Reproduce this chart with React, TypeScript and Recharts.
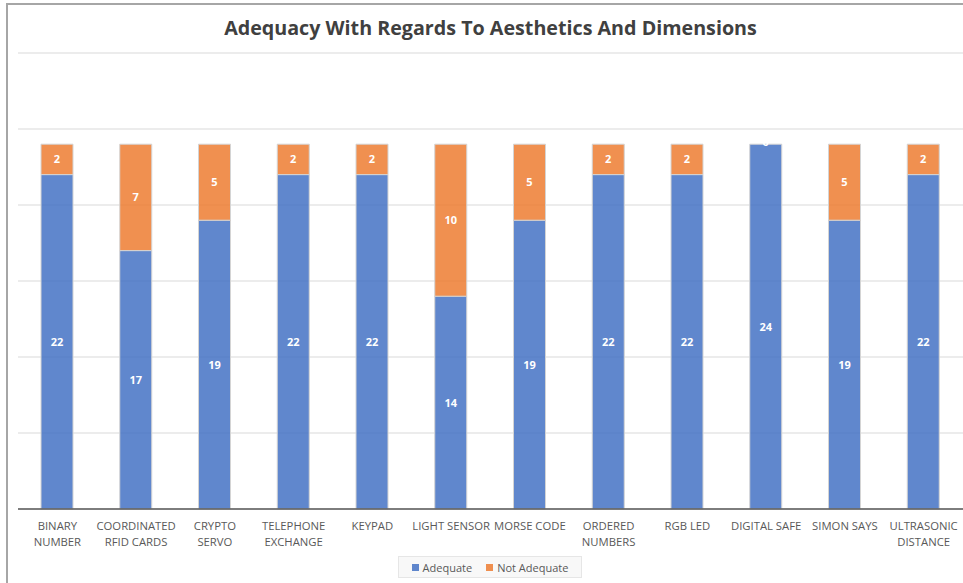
import React from "react";
import { BarChart, Bar, XAxis, YAxis, CartesianGrid, LabelList } from "recharts";

const projects = [
  "BINARY\nNUMBER",
  "COORDINATED\nRFID CARDS",
  "CRYPTO\nSERVO",
  "TELEPHONE\nEXCHANGE",
  "KEYPAD",
  "LIGHT SENSOR",
  "MORSE CODE",
  "ORDERED\nNUMBERS",
  "RGB LED",
  "DIGITAL SAFE",
  "SIMON SAYS",
  "ULTRASONIC\nDISTANCE",
];
const adequate = [22, 17, 19, 22, 22, 14, 19, 22, 22, 24, 19, 22];
const notAdequate = [2, 7, 5, 2, 2, 10, 5, 2, 2, 0, 5, 2];
const gridTicks = [0, 5, 10, 15, 20, 25, 30];

const BLUE = "#4472c4";
const ORANGE = "#ed7d31";
const FONT = "'Open Sans', sans-serif";

const rows = projects.map((name, i) => ({
  name,
  adequate: adequate[i],
  notAdequate: notAdequate[i],
}));

function ProjectTick({ x, y, payload }: any) {
  const lines = String(payload.value).split("\n");
  return (
    <text x={x} y={y + 13} textAnchor="middle" fill="#595959" fontSize={11.3} fontFamily={FONT}>
      {lines.map((line, i) => (
        <tspan key={i} x={x} dy={i === 0 ? 0 : 16}>
          {line}
        </tspan>
      ))}
    </text>
  );
}

const valueLabel = {
  fill: "#ffffff",
  fontSize: 11,
  fontWeight: 700,
  fontFamily: FONT,
};

// an empty orange segment has no rect, so its "0" sits on top of the blue bar
function ZeroLabel({ x, y, width, value }: any) {
  if (value !== 0) return null;
  return (
    <text x={x + width / 2} y={y} dy="0.2em" textAnchor="middle" style={valueLabel}>
      {value}
    </text>
  );
}

export default function App() {
  return (
    <div style={{ position: "absolute", left: 0, top: 0, width: 963, height: 583, background: "#fff" }}>
      <div
        style={{
          position: "absolute",
          left: 6,
          top: 3,
          right: 0,
          bottom: 0,
          borderLeft: "2px solid #a6a6a6",
          borderTop: "2px solid #a6a6a6",
        }}
      />
      <div
        style={{
          position: "absolute",
          left: 18,
          width: 945,
          top: 14,
          textAlign: "center",
          fontFamily: FONT,
          fontWeight: 700,
          fontSize: 19.7,
          color: "#404040",
        }}
      >
        Adequacy With Regards To Aesthetics And Dimensions
      </div>
      <BarChart
        width={963}
        height={583}
        data={rows}
        margin={{ top: 53, right: 0, bottom: 0, left: 18 }}
        barSize={32}
        style={{ position: "absolute", left: 0, top: 0 }}
      >
        <CartesianGrid vertical={false} stroke="#d9d9d9" />
        <YAxis hide domain={[0, 30]} ticks={gridTicks} />
        <XAxis
          dataKey="name"
          height={74}
          interval={0}
          tickLine={false}
          axisLine={{ stroke: "#595959", strokeWidth: 1.5 }}
          tick={<ProjectTick />}
        />
        <Bar
          dataKey="adequate"
          stackId="a"
          fill={BLUE}
          fillOpacity={0.85}
          stroke="#d4d4d4"
          strokeWidth={1}
          isAnimationActive={false}
        >
          <LabelList dataKey="adequate" position="center" style={valueLabel} />
          <LabelList dataKey="notAdequate" content={<ZeroLabel />} />
        </Bar>
        <Bar
          dataKey="notAdequate"
          stackId="a"
          fill={ORANGE}
          fillOpacity={0.85}
          stroke="#d4d4d4"
          strokeWidth={1}
          isAnimationActive={false}
        >
          <LabelList dataKey="notAdequate" position="center" style={valueLabel} />
        </Bar>
      </BarChart>
      <div
        style={{
          position: "absolute",
          left: 398,
          top: 556,
          width: 184,
          height: 22,
          boxSizing: "border-box",
          border: "1px solid #e6e6e6",
          background: "#f8f8f8",
          display: "flex",
          alignItems: "center",
          justifyContent: "center",
          gap: 14,
          fontFamily: FONT,
          fontSize: 11,
          color: "#595959",
        }}
      >
        <span style={{ display: "flex", alignItems: "center", gap: 4 }}>
          <span style={{ width: 7, height: 7, background: BLUE, opacity: 0.85 }} />
          Adequate
        </span>
        <span style={{ display: "flex", alignItems: "center", gap: 4 }}>
          <span style={{ width: 7, height: 7, background: ORANGE, opacity: 0.85 }} />
          Not Adequate
        </span>
      </div>
    </div>
  );
}
